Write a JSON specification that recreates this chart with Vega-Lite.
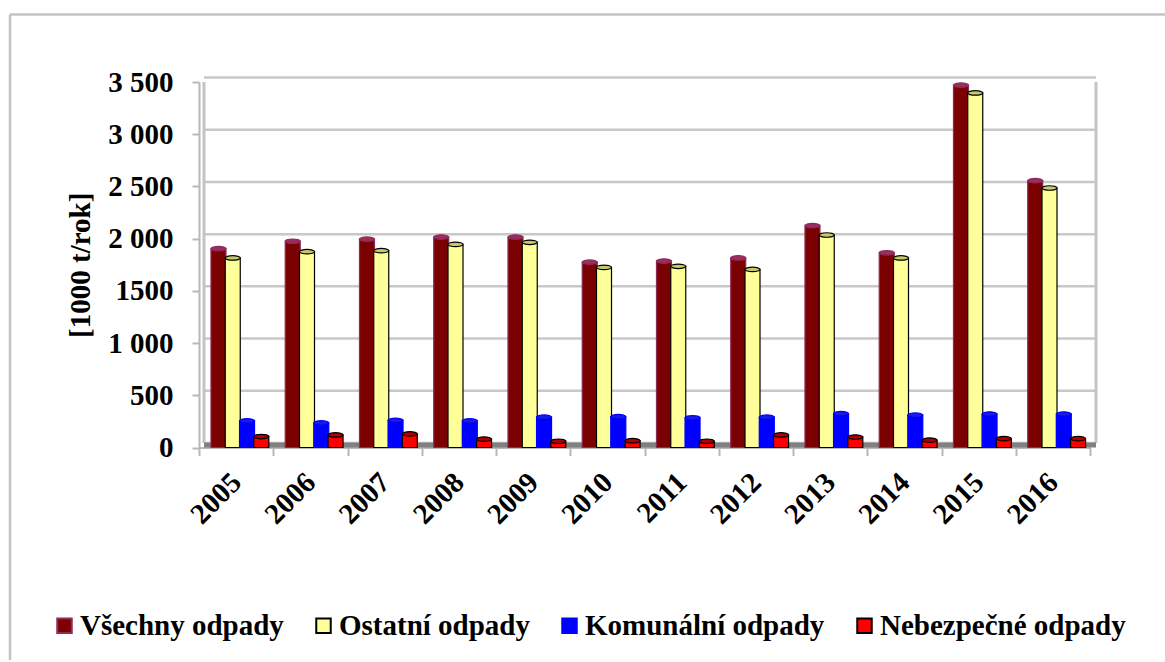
{"$schema":"https://vega.github.io/schema/vega-lite/v6.json","autosize":{"type":"none"},"padding":{"left":3,"top":13,"right":3,"bottom":2},"width":1159,"height":647,"background":"white","view":{"stroke":null,"fill":"white"},"config":{"font":"Liberation Serif"},"datasets":{"ticks":[{"v":0},{"v":500},{"v":1000},{"v":1500},{"v":2000},{"v":2500},{"v":3000},{"v":3500}],"main":[
{"rok":"2005","serie":"Všechny odpady","h":1905},{"rok":"2006","serie":"Všechny odpady","h":1975},{"rok":"2007","serie":"Všechny odpady","h":1995},{"rok":"2008","serie":"Všechny odpady","h":2015},{"rok":"2009","serie":"Všechny odpady","h":2015},{"rok":"2010","serie":"Všechny odpady","h":1775},{"rok":"2011","serie":"Všechny odpady","h":1785},{"rok":"2012","serie":"Všechny odpady","h":1815},{"rok":"2013","serie":"Všechny odpady","h":2125},{"rok":"2014","serie":"Všechny odpady","h":1865},{"rok":"2015","serie":"Všechny odpady","h":3470},{"rok":"2016","serie":"Všechny odpady","h":2555},
{"rok":"2005","serie":"Ostatní odpady","h":1815},{"rok":"2006","serie":"Ostatní odpady","h":1875},{"rok":"2007","serie":"Ostatní odpady","h":1885},{"rok":"2008","serie":"Ostatní odpady","h":1945},{"rok":"2009","serie":"Ostatní odpady","h":1965},{"rok":"2010","serie":"Ostatní odpady","h":1725},{"rok":"2011","serie":"Ostatní odpady","h":1735},{"rok":"2012","serie":"Ostatní odpady","h":1705},{"rok":"2013","serie":"Ostatní odpady","h":2035},{"rok":"2014","serie":"Ostatní odpady","h":1815},{"rok":"2015","serie":"Ostatní odpady","h":3395},{"rok":"2016","serie":"Ostatní odpady","h":2485},
{"rok":"2005","serie":"Komunální odpady","h":255},{"rok":"2006","serie":"Komunální odpady","h":235},{"rok":"2007","serie":"Komunální odpady","h":260},{"rok":"2008","serie":"Komunální odpady","h":255},{"rok":"2009","serie":"Komunální odpady","h":290},{"rok":"2010","serie":"Komunální odpady","h":295},{"rok":"2011","serie":"Komunální odpady","h":285},{"rok":"2012","serie":"Komunální odpady","h":290},{"rok":"2013","serie":"Komunální odpady","h":325},{"rok":"2014","serie":"Komunální odpady","h":310},{"rok":"2015","serie":"Komunální odpady","h":320},{"rok":"2016","serie":"Komunální odpady","h":320},
{"rok":"2005","serie":"Nebezpečné odpady","h":105},{"rok":"2006","serie":"Nebezpečné odpady","h":120},{"rok":"2007","serie":"Nebezpečné odpady","h":130},{"rok":"2008","serie":"Nebezpečné odpady","h":80},{"rok":"2009","serie":"Nebezpečné odpady","h":60},{"rok":"2010","serie":"Nebezpečné odpady","h":65},{"rok":"2011","serie":"Nebezpečné odpady","h":60},{"rok":"2012","serie":"Nebezpečné odpady","h":120},{"rok":"2013","serie":"Nebezpečné odpady","h":100},{"rok":"2014","serie":"Nebezpečné odpady","h":70},{"rok":"2015","serie":"Nebezpečné odpady","h":85},{"rok":"2016","serie":"Nebezpečné odpady","h":85}]},
"layer":[
{"layer":[
{"data":{"name":"ticks"},"mark":{"type":"rule","color":"#c8c8c8","strokeWidth":2.5,"yOffset":-4.5},"encoding":{"y":{"field":"v","type":"quantitative","scale":{"domain":[0,3500],"range":[434.5,69],"nice":false},"axis":{"title":"[1000 t/rok]","titleFont":"Liberation Serif","titleFontSize":29,"titleFontWeight":"bold","titleColor":"black","titlePadding":12,"labelFont":"Liberation Serif","labelFontWeight":"bold","labelFontSize":29,"labelColor":"black","labelPadding":19,"labelExpr":"datum.value==1500?'1500':replace(format(datum.value,','),',',' ')","values":[0,500,1000,1500,2000,2500,3000,3500],"tickColor":"#b8b8b8","tickWidth":2,"tickSize":7,"domainColor":"#b8b8b8","domainWidth":2,"offset":-196,"grid":false}},"x":{"datum":0,"type":"quantitative","scale":{"domain":[0,1],"range":[201,1093]},"axis":null},"x2":{"datum":1}}},
{"data":{"values":[{"a":0,"lo":0,"hi":3500},{"a":1,"lo":0,"hi":3500}]},"mark":{"type":"rule","color":"#c4c4c4","strokeWidth":3,"yOffset":-4.5},"encoding":{"x":{"field":"a","type":"quantitative","axis":null},"y":{"field":"lo","type":"quantitative"},"y2":{"field":"hi"}}},
{"data":{"values":[{"lo":0}]},"mark":{"type":"rule","color":"#808080","strokeWidth":5,"yOffset":-2.5},"encoding":{"y":{"field":"lo","type":"quantitative"},"x":{"datum":0,"type":"quantitative"},"x2":{"datum":1}}},
{"data":{"values":[{"a":-0.2175,"b":1.0774,"top":4146,"bottom":-2035}]},"mark":{"type":"rule","color":"#c4c4c4","strokeWidth":2.5},"encoding":{"y":{"field":"top","type":"quantitative"},"x":{"field":"a","type":"quantitative"},"x2":{"field":"b"}}},
{"data":{"values":[{"a":-0.2175,"b":1.0774,"top":4146,"bottom":-2035}]},"mark":{"type":"rule","color":"#c4c4c4","strokeWidth":2.5},"encoding":{"x":{"field":"a","type":"quantitative"},"y":{"field":"top","type":"quantitative"},"y2":{"field":"bottom"}}}
]},
{"data":{"name":"main"},"layer":[
{"mark":{"type":"bar","size":15,"strokeWidth":1.2},"encoding":{
"x":{"field":"rok","type":"nominal","scale":{"range":[196,1087],"paddingInner":0,"paddingOuter":0},"axis":{"orient":"bottom","title":null,"labelAngle":-45,"labelAlign":"right","labelBaseline":"middle","labelFont":"Liberation Serif","labelFontWeight":"bold","labelFontSize":29,"labelColor":"black","labelPadding":22,"labelLimit":300,"tickBand":"extent","tickColor":"#b8b8b8","tickWidth":2,"tickSize":8,"domainColor":"#b8b8b8","domainWidth":2,"offset":-212.5,"grid":false,"labelFlush":false,"labelOverlap":false}},
"xOffset":{"field":"serie","type":"nominal","sort":["Všechny odpady","Ostatní odpady","Komunální odpady","Nebezpečné odpady"],"scale":{"domain":["Všechny odpady","Ostatní odpady","Komunální odpady","Nebezpečné odpady"],"paddingInner":0,"paddingOuter":0.6,"align":0.72}},
"y":{"field":"h","type":"quantitative"},
"fill":{"field":"serie","type":"nominal","sort":["Všechny odpady","Ostatní odpady","Komunální odpady","Nebezpečné odpady"],"scale":{"domain":["Všechny odpady","Ostatní odpady","Komunální odpady","Nebezpečné odpady"],"range":["#7b0000","#ffff99","#0000ff","#ff0000"]},"legend":{"orient":"none","legendX":47,"legendY":598,"direction":"horizontal","columns":4,"title":null,"symbolType":"square","symbolSize":210,"symbolStrokeWidth":2,"labelFont":"Liberation Serif","labelFontWeight":"bold","labelFontSize":29,"labelColor":"black","labelOffset":1,"columnPadding":25,"labelLimit":400,"padding":0,"symbolOpacity":1}},
"stroke":{"field":"serie","type":"nominal","sort":["Všechny odpady","Ostatní odpady","Komunální odpady","Nebezpečné odpady"],"scale":{"domain":["Všechny odpady","Ostatní odpady","Komunální odpady","Nebezpečné odpady"],"range":["#8f2a5a","#000000","#0000ff","#000000"]},"legend":{"orient":"none","legendX":47,"legendY":598,"direction":"horizontal","columns":4,"title":null,"symbolType":"square","symbolSize":210,"symbolStrokeWidth":2,"labelFont":"Liberation Serif","labelFontWeight":"bold","labelFontSize":29,"labelColor":"black","labelOffset":1,"columnPadding":25,"labelLimit":400,"padding":0,"symbolOpacity":1}}}},
{"mark":{"type":"point","filled":true,"opacity":1,"size":225,"strokeWidth":1.2,"shape":"M-1,0 A1,0.3 0 1 1 1,0 A1,0.3 0 1 1 -1,0 Z"},"encoding":{
"x":{"field":"rok","type":"nominal"},
"xOffset":{"field":"serie","type":"nominal"},
"y":{"field":"h","type":"quantitative"},
"fill":{"field":"cap","type":"nominal","scale":{"domain":["Všechny odpady","Ostatní odpady","Komunální odpady","Nebezpečné odpady"],"range":["#9b2d60","#c8c864","#1a1ae0","#b00000"]},"legend":null},
"stroke":{"field":"cap","type":"nominal","scale":{"domain":["Všechny odpady","Ostatní odpady","Komunální odpady","Nebezpečné odpady"],"range":["#8f2a5a","#000000","#0000ff","#000000"]},"legend":null}},
"transform":[{"calculate":"datum.serie","as":"cap"}]}
],"resolve":{"scale":{"fill":"independent","stroke":"independent"}}}
],"resolve":{"scale":{"x":"independent"}}}
